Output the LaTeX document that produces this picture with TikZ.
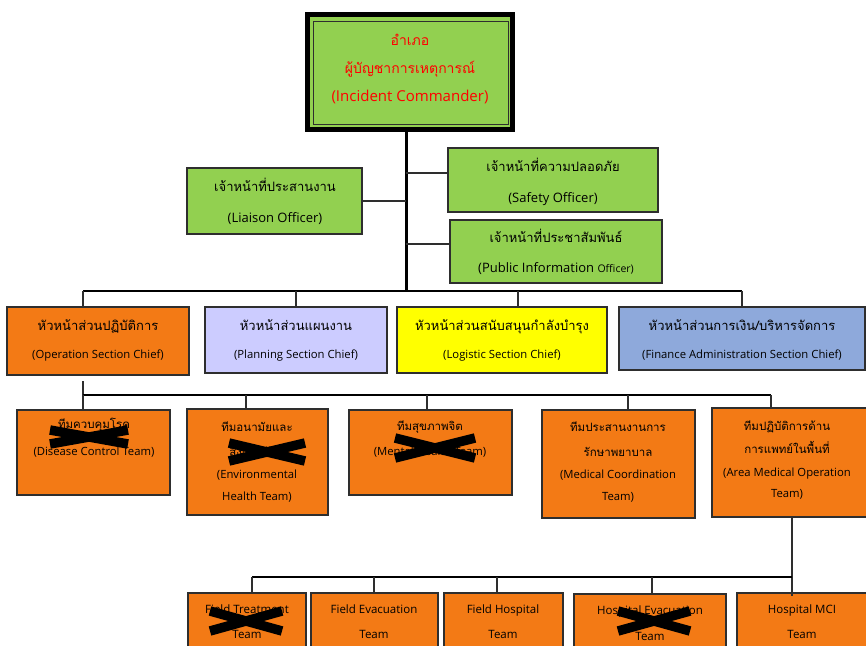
\documentclass[tikz,border=0pt]{standalone}
\usepackage{fontspec}
\setmainfont[Script=Thai]{Loma}
\newfontfamily\enfont{Open Sans}
\definecolor{icgreen}{HTML}{92D050}
\definecolor{opsorange}{HTML}{F37A15}
\definecolor{planlav}{HTML}{CCCCFF}
\definecolor{logyellow}{HTML}{FFFF00}
\definecolor{finblue}{HTML}{8EA9DB}
\definecolor{edge}{HTML}{2E2E2E}
% a box given by its corners (x1,y1) and (x2,y2)
\newcommand\orgcell[6]{\node[box,#6,minimum width={(#4-#2)*1pt},minimum height={(#5-#3)*1pt}] (#1) at (#2,#3) {};}
% one line of Thai text centred at (x,y) with the given size
\newcommand\tline[5]{\node[lbl,font=\fontsize{#4}{#4}\selectfont] (#1) at (#2,#3) {#5};}
% one line of English text centred at (x,y) with the given size
\newcommand\eline[5]{\node[lbl,font=\enfont\fontsize{#4}{#4}\selectfont] (#1) at (#2,#3) {#5};}
% a heavy cross struck over a box, centred at (x,y)
\newcommand\strikeout[5]{%
  \coordinate (#1) at (#2,#3);
  \draw[strike] ([shift={(-#4,-#5)}]#1) -- ([shift={(#4,#5)}]#1);
  \draw[strike] ([shift={(-#4,#5)}]#1) -- ([shift={(#4,-#5)}]#1);}
\begin{document}
\begin{tikzpicture}[x=1pt,y=-1pt,
  box/.style={draw=edge,line width=1.3pt,inner sep=0pt,outer sep=0pt,anchor=north west},
  lbl/.style={align=center,inner sep=0pt,text height=0.6em,text depth=0pt,anchor=center},
  trunk/.style={line width=3pt,black},
  bus/.style={line width=2.4pt,black},
  link/.style={line width=1.4pt,edge},
  strike/.style={line width=9.5pt,black}]
\useasboundingbox (0,0) rectangle (866,645);
\clip (0,0) rectangle (866,645);

% ---------- incident commander ----------
\fill[black] (305,12) rectangle (515,132);
\node[box,draw=none,fill=icgreen,minimum width=200pt,minimum height=110pt] (ic) at (310,17) {};
\draw[edge,line width=1pt] (313,21) rectangle (508,124);
\tline{ic1}{410}{42}{14}{\color{red}อำเภอ}
\tline{ic2}{410}{70}{14}{\color{red}ผู้บัญชาการเหตุการณ์}
\eline{ic3}{410}{98}{15}{\color{red}(Incident Commander)}

% ---------- command staff ----------
\orgcell{lia}{187}{168}{362}{234}{fill=icgreen}
\orgcell{saf}{448}{148}{658}{212}{fill=icgreen}
\orgcell{pio}{450}{220}{662}{283}{fill=icgreen}
\tline{lia1}{275}{188}{13}{เจ้าหน้าที่ประสานงาน}
\eline{lia2}{275}{219}{13}{(Liaison Officer)}
\tline{saf1}{553}{168}{13}{เจ้าหน้าที่ความปลอดภัย}
\eline{saf2}{553}{199}{13}{(Safety Officer)}
\tline{pio1}{556}{239}{13}{เจ้าหน้าที่ประชาสัมพันธ์}
\eline{pio2}{556}{269}{13}{(Public Information {\fontsize{10.5}{10.5}\selectfont Officer)}}

% ---------- section chiefs ----------
\orgcell{ops}{7}{307}{189}{375}{fill=opsorange}
\orgcell{pln}{205}{307}{387}{373}{fill=planlav}
\orgcell{lgs}{397}{307}{607}{373}{fill=logyellow}
\orgcell{fin}{619}{307}{865}{370}{fill=finblue}
\tline{ops1}{98}{327}{13}{หัวหน้าส่วนปฏิบัติการ}
\eline{ops2}{98}{355}{11.3}{(Operation Section Chief)}
\tline{pln1}{296}{327}{13}{หัวหน้าส่วนแผนงาน}
\eline{pln2}{296}{355}{11.3}{(Planning Section Chief)}
\tline{lgs1}{502}{327}{13}{หัวหน้าส่วนสนับสนุนกำลังบำรุง}
\eline{lgs2}{502}{355}{11.3}{(Logistic Section Chief)}
\tline{fin1}{742}{327}{13}{หัวหน้าส่วนการเงิน/บริหารจัดการ}
\eline{fin2}{742}{355}{11.3}{(Finance Administration Section Chief)}

% ---------- operation teams ----------
\orgcell{dis}{17}{410}{170}{495}{fill=opsorange}
\orgcell{env}{187}{409}{328}{515}{fill=opsorange}
\orgcell{men}{349}{410}{512}{495}{fill=opsorange}
\orgcell{mco}{542}{410}{695}{518}{fill=opsorange}
\orgcell{amo}{712}{408}{872}{517}{fill=opsorange}
\tline{dis1}{94}{425}{11.5}{ทีมควบคุมโรค}
\eline{dis2}{94}{452}{11.3}{(Disease Control Team)}
\tline{env1}{257}{428}{11.5}{ทีมอนามัยและ}
\tline{env2}{257}{453}{11.5}{สิ่งแวดล้อม}
\eline{env3}{257}{475}{11.3}{(Environmental}
\eline{env4}{257}{497}{11.3}{Health Team)}
\tline{men1}{430}{427}{11.5}{ทีมสุขภาพจิต}
\eline{men2}{430}{452}{11.3}{(Mental Health Team)}
\tline{mco1}{618}{428}{11.5}{ทีมประสานงานการ}
\tline{mco2}{618}{453}{11.5}{รักษาพยาบาล}
\eline{mco3}{618}{475}{11.3}{(Medical Coordination}
\eline{mco4}{618}{497}{11.3}{Team)}
\tline{amo1}{787}{427}{11.5}{ทีมปฏิบัติการด้าน}
\tline{amo2}{787}{450}{11.5}{การแพทย์ในพื้นที่}
\eline{amo3}{787}{473}{11.3}{(Area Medical Operation}
\eline{amo4}{787}{494}{11.3}{Team)}

% ---------- medical field teams ----------
\orgcell{ftt}{188}{593}{306}{660}{fill=opsorange}
\orgcell{fev}{311}{593}{438}{660}{fill=opsorange}
\orgcell{fho}{444}{593}{563}{660}{fill=opsorange}
\orgcell{hev}{574}{594}{726}{660}{fill=opsorange}
\orgcell{mci}{737}{593}{872}{660}{fill=opsorange}
\eline{ftt1}{247}{610}{11.5}{Field Treatment}
\eline{ftt2}{247}{635}{11.5}{Team}
\eline{fev1}{374}{610}{11.5}{Field Evacuation}
\eline{fev2}{374}{635}{11.5}{Team}
\eline{fho1}{503}{610}{11.5}{Field Hospital}
\eline{fho2}{503}{635}{11.5}{Team}
\eline{hev1}{650}{611}{11.5}{Hospital Evacuation}
\eline{hev2}{650}{637}{11.5}{Team}
\eline{mci1}{802}{610}{11.5}{Hospital MCI}
\eline{mci2}{802}{635}{11.5}{Team}

% ---------- connectors: command level ----------
\coordinate (tr) at (406,291);
\draw[trunk] (ic.south -| tr) -- (tr);
\draw[link,line width=1.8pt] (lia.east) -- (lia.east -| tr);
\coordinate (jsaf) at (406,173);
\coordinate (jpio) at (406,244);
\draw[link,line width=1.8pt] (jsaf) -- (jsaf -| saf.west);
\draw[link,line width=1.8pt] (jpio) -- (jpio -| pio.west);

% ---------- connectors: sections ----------
\coordinate (s1) at (83,291);
\coordinate (s2) at (296,291);
\coordinate (s3) at (518,291);
\coordinate (s4) at (742,291);
\draw[bus] (s1) -- (s4);
\draw[link] (s1) -- (s1 |- ops.north);
\draw[link] (s2) -- (s2 |- pln.north);
\draw[link] (s3) -- (s3 |- lgs.north);
\draw[link] (s4) -- (s4 |- fin.north);

% ---------- connectors: operation teams ----------
\coordinate (o0) at (83,381);
\coordinate (o1) at (83,395);
\coordinate (o2) at (246,395);
\coordinate (o3) at (427,395);
\coordinate (o4) at (628,395);
\coordinate (o5) at (771,395);
\draw[link] (o0) -- (o1);
\draw[bus,line width=2.2pt] (o1) -- (o5);
\draw[link] (o1) -- (o1 |- dis.north);
\draw[link] (o2) -- (o2 |- env.north);
\draw[link] (o3) -- (o3 |- men.north);
\draw[link] (o4) -- (o4 |- mco.north);
\draw[link] (o5) -- (o5 |- amo.north);

% ---------- connectors: medical field teams ----------
\coordinate (m0) at (792,517);
\coordinate (m5) at (792,577);
\coordinate (m1) at (252,577);
\coordinate (m2) at (374,577);
\coordinate (m3) at (497,577);
\coordinate (m4) at (652,577);
\draw[link] (m0) -- ([yshift=-3pt]m5 |- mci.north);
\draw[bus,line width=2.2pt] (m1) -- (m5);
\draw[link] (m1) -- (m1 |- ftt.north);
\draw[link] (m2) -- (m2 |- fev.north);
\draw[link] (m3) -- (m3 |- fho.north);
\draw[link] (m4) -- ([yshift=-1pt]m4 |- hev.north);

% ---------- struck-out teams ----------
\strikeout{xdis}{89}{437}{39}{7}
\strikeout{xenv}{267}{452}{38}{9}
\strikeout{xmen}{435}{448}{40}{10}
\strikeout{xftt}{246}{621}{36}{10}
\strikeout{xhev}{654}{621}{36}{10}
\end{tikzpicture}
\end{document}
